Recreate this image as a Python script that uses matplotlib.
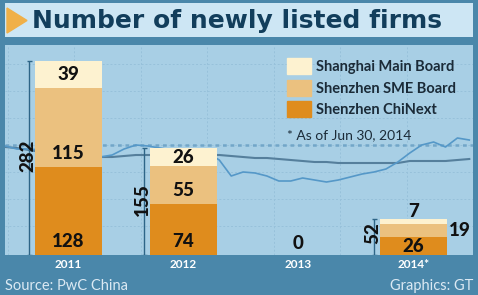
import numpy as np
import matplotlib
matplotlib.use("Agg")
import matplotlib.pyplot as plt
from matplotlib.patches import Patch, Polygon, Rectangle

# ---- data ----
years = ["2011", "2012", "2013", "2014*"]
chinext = [128, 74, 0, 26]
sme = [115, 55, 0, 19]
main_board = [39, 26, 0, 7]
totals = [282, 155, 0, 52]
series_names = ["Shenzhen ChiNext", "Shenzhen SME Board", "Shanghai Main Board"]

# background index lines (arbitrary level, evenly spaced samples)
index_light = [109, 106, 106, 105, 105, 104, 103, 101, 98, 100, 106, 110, 109, 107,
               105, 104, 103, 102, 95, 79, 83, 82, 79, 74, 74, 77, 75, 73, 75, 78,
               81, 83, 86, 93, 102, 110, 113, 108, 117, 115]
index_dark = [108, 107, 105, 103, 102, 101, 100, 99, 98, 98, 99, 100, 100, 100,
              100, 100, 100, 100, 100, 99, 98, 97, 97, 96, 95, 94, 93, 93, 92, 92,
              92, 92, 92, 92, 94, 94, 94, 94, 95, 96]
index_ref = 110

# ---- colours ----
OUTER = "#4a87aa"
TITLE_BG = "#cde6f4"
PLOT_BG = "#a8cfe5"
NAVY = "#123e5c"
C_CHINEXT = "#df8c1d"
C_SME = "#ebc17f"
C_MAIN = "#fdf2d0"
colors = [C_CHINEXT, C_SME, C_MAIN]
FONT = "Lato"

W, H = 478, 295
fig = plt.figure(figsize=(W / 100, H / 100), dpi=100, facecolor=OUTER)


def px_rect(x0, y0, x1, y1):
    return [x0 / W, 1 - y1 / H, (x1 - x0) / W, (y1 - y0) / H]


# title band
tax = fig.add_axes(px_rect(5, 3, 473, 37))
tax.set_xlim(0, 468)
tax.set_ylim(34, 0)
tax.axis("off")
tax.add_patch(Rectangle((0, 0), 468, 34, color=TITLE_BG, zorder=0))
tax.add_patch(Polygon([[2, 5], [2, 30], [22, 17.5]], closed=True, color="#f0b048"))
tax.text(27, 18, "Number of newly listed firms", family="DejaVu Sans", weight="bold",
         fontsize=18, color=NAVY, va="center", ha="left")

# background axes with index lines
rect = px_rect(5, 45, 473, 255)
bg = fig.add_axes(rect, zorder=0)
bg.set_facecolor(PLOT_BG)
n = len(index_light)
xs = np.arange(n)
bg.set_xlim(0, n - 1)
bg.set_ylim(0, 210)
bg.set_xticks(np.arange(0.25, n, 5.58))
bg.set_yticks(np.arange(29, 210, 27))
bg.grid(color="#97c1da", linestyle=(0, (2, 2)), lw=0.7)
bg.tick_params(length=0, labelbottom=False, labelleft=False)
for s in bg.spines.values():
    s.set_visible(False)
bg.axhline(index_ref, color="#72a6c8", linestyle=(0, (1.5, 1.5)), lw=1.8)
bg.plot(xs, index_dark, color="#557f9c", lw=1.5)
bg.plot(xs, index_light, color="#5598c8", lw=1.2)

# bar axes
ax = fig.add_axes(rect, zorder=1)
ax.patch.set_alpha(0)
ax.set_xlim(-0.552, 3.517)
ax.set_ylim(0, 305)
for s in ax.spines.values():
    s.set_visible(False)
ax.set_yticks([])
ax.set_xticks(range(len(years)), years)
ax.tick_params(axis="x", length=0, pad=3, labelcolor="white", labelsize=8.5)
for lab in ax.get_xticklabels():
    lab.set_family(FONT)
    lab.set_weight("bold")

width = 0.58
x = np.arange(len(years))
stack = [chinext, sme, main_board]
bottom = np.zeros(len(years))
for vals, col, name in zip(stack, colors, series_names):
    ax.bar(x, vals, width, bottom=bottom, color=col, label=name, zorder=2)
    bottom += np.array(vals)

lab_kw = dict(family=FONT, weight="black", fontsize=13.5, color="#111111", zorder=4)
for i in range(len(years)):
    tot = totals[i]
    if tot == 0:
        ax.text(i, 17, "0", ha="center", va="center", **lab_kw)
        continue
    b = 0
    for k, vals in enumerate(stack):
        h = vals[i]
        if h >= 20:
            ax.text(i, b + min(h / 2, 19), str(h), ha="center", va="center", **lab_kw)
        elif k == len(stack) - 1:
            ax.text(i, tot + 11, str(h), ha="center", va="center", **lab_kw)
        else:
            ax.text(i + width / 2 + 0.02, b + h / 2, str(h), ha="left", va="center", **lab_kw)
        b += h
    # total bracket
    bx = i - 0.34
    ax.vlines(bx, 0, tot, color="#2e6587", lw=1, zorder=3)
    ax.hlines([0, tot], bx - 0.02, bx + 0.02, color="#2e6587", lw=1, zorder=3)
    ax.text(bx - 0.015, max(tot / 2 + 3, 32), str(tot), rotation=90, ha="center",
            va="center", **lab_kw)

handles = [Patch(color=C_MAIN), Patch(color=C_SME), Patch(color=C_CHINEXT)]
labels = ["Shanghai Main Board", "Shenzhen SME Board", "Shenzhen ChiNext"]
leg = ax.legend(handles, labels, loc="upper left", bbox_to_anchor=(0.6026, 0.938),
                frameon=False, borderaxespad=0, borderpad=0, handlelength=1.65,
                handleheight=1.3, labelspacing=0.4, handletextpad=0.36,
                prop=dict(family=FONT, weight="bold", size=10.5))
for t in leg.get_texts():
    t.set_color("#1b2b38")
ax.text(0.6026, 1 - (135 - 45) / 210, "* As of Jun 30, 2014", transform=ax.transAxes,
        family=FONT, fontsize=10, color="#1b2b38", ha="left", va="center")

# footer
fig.text(5 / W, 1 - 286 / H, "Source: PwC China", family=FONT, fontsize=10.5,
         color="#dbe9f3", ha="left", va="center")
fig.text(473 / W, 1 - 286 / H, "Graphics: GT", family=FONT, fontsize=10.5,
         color="#dbe9f3", ha="right", va="center")

fig.savefig("out.png", dpi=100, facecolor=OUTER)
